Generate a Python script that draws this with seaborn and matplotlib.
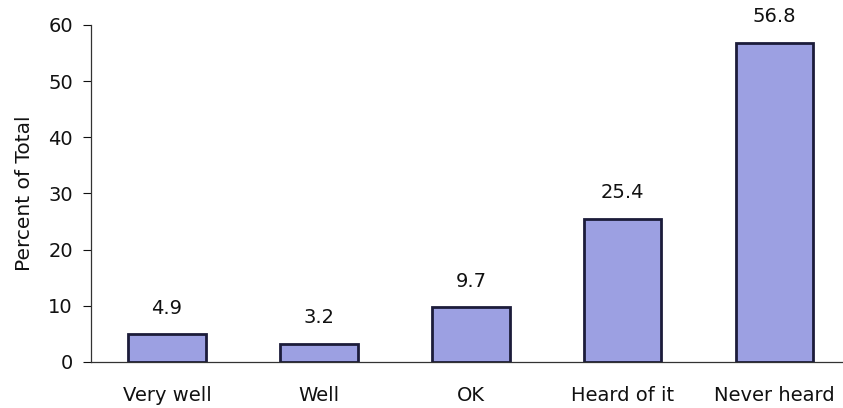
import matplotlib
matplotlib.use("Agg")
import matplotlib.pyplot as plt
import seaborn as sns
import pandas as pd

categories = ["Very well", "Well", "OK", "Heard of it", "Never heard"]
percent = [4.9, 3.2, 9.7, 25.4, 56.8]
yticks = [0, 10, 20, 30, 40, 50, 60]

sns.set_style("white")
plt.rcParams["font.family"] = ["DejaVu Sans"]

df = pd.DataFrame({"category": categories, "percent": percent})

fig = plt.figure(figsize=(8.43, 4.08), dpi=100)
ax = fig.add_axes([0.108, 0.113, 0.892, 0.826])

sns.barplot(data=df, x="category", y="percent", ax=ax, color="#9ca0e2",
            saturation=1, width=0.51, edgecolor="#1c1c3a", linewidth=2.0)

for i, v in enumerate(percent):
    ax.text(i, v + 3.0, f"{v:.1f}", ha="center", va="bottom", fontsize=14, color="#111111")

ax.set_xlim(-0.5, 4.45)
ax.set_ylim(0, 60)
ax.set_yticks(yticks)
ax.tick_params(axis="y", labelsize=14, length=6, width=0.8, pad=7, direction="out",
               left=True, colors="#111111")
ax.tick_params(axis="x", labelsize=14, length=0, pad=17, colors="#111111")
ax.set_xlabel("")
ax.set_ylabel("Percent of Total", fontsize=14.5, labelpad=10, color="#111111")

for side in ["top", "right"]:
    ax.spines[side].set_visible(False)
ax.spines["left"].set_color("#333333")
ax.spines["bottom"].set_color("#333333")
ax.spines["left"].set_linewidth(0.9)
ax.spines["bottom"].set_linewidth(0.9)

fig.savefig("out.png", dpi=100, facecolor="white")
